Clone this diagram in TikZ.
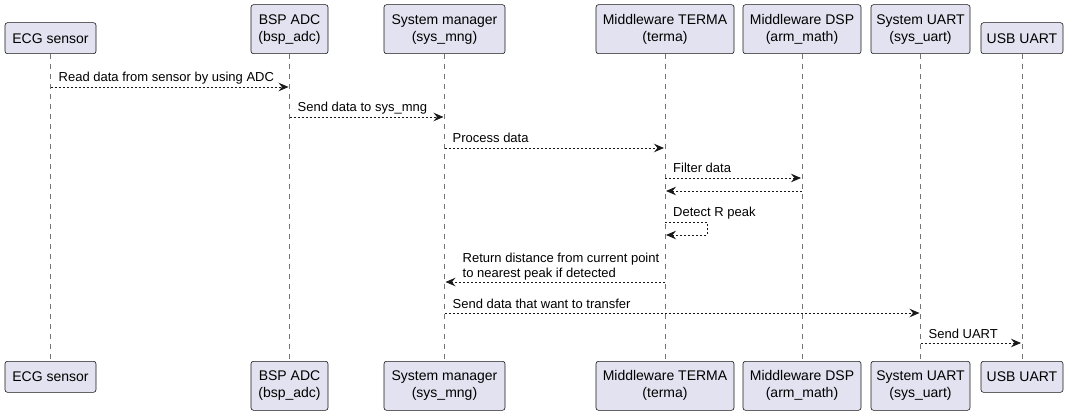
\documentclass[tikz,border=0pt]{standalone}
\usepackage{fontspec}
\setmainfont{Liberation Sans}
\usetikzlibrary{arrows.meta}
\definecolor{boxfill}{HTML}{E2E2F0}
\definecolor{ink}{HTML}{181818}

\begin{document}
\begin{tikzpicture}[x = 1pt, y = -1pt,
    part/.style = {draw = ink, fill = boxfill, rounded corners = 2.5pt, line width = 0.6pt,
      align = center, inner sep = 0pt, minimum height = 31pt, font = \fontsize{14}{17}\selectfont},
    twoline/.style = {minimum height = 49pt},
    life/.style = {draw = ink!60, line width = 0.6pt, dash pattern = on 5pt off 5pt},
    msg/.style = {draw = ink, line width = 0.8pt, dash pattern = on 2pt off 2pt,
      -{Stealth[length = 10pt, width = 8.5pt, inset = 3.5pt]}, shorten > = 1pt},
    lbl/.style = {anchor = base west, inner sep = 0pt, align = left, font = \fontsize{13}{15}\selectfont}]
    \useasboundingbox (0,0) rectangle (1068,414);

    % participants, top row
    \node [part, minimum width = 91pt, anchor = south] (ecgtop) at (50.5, 54) {ECG sensor};
    \node [part, twoline, minimum width = 77pt, anchor = south] (bsptop) at (289.5, 54) {BSP ADC\\(bsp\_adc)};
    \node [part, twoline, minimum width = 121pt, anchor = south] (systop) at (444.5, 54) {System manager\\(sys\_mng)};
    \node [part, twoline, minimum width = 138pt, anchor = south] (termatop) at (665, 54) {Middleware TERMA\\(terma)};
    \node [part, twoline, minimum width = 118pt, anchor = south] (dsptop) at (802, 54) {Middleware DSP\\(arm\_math)};
    \node [part, twoline, minimum width = 99pt, anchor = south] (uarttop) at (920.5, 54) {System UART\\(sys\_uart)};
    \node [part, minimum width = 82pt, anchor = south] (usbtop) at (1022, 54) {USB UART};

    % participants, bottom row
    \node [part, minimum width = 91pt, anchor = north] (ecgbot) at (50.5, 361) {ECG sensor};
    \node [part, twoline, minimum width = 77pt, anchor = north] (bspbot) at (289.5, 361) {BSP ADC\\(bsp\_adc)};
    \node [part, twoline, minimum width = 121pt, anchor = north] (sysbot) at (444.5, 361) {System manager\\(sys\_mng)};
    \node [part, twoline, minimum width = 138pt, anchor = north] (termabot) at (665, 361) {Middleware TERMA\\(terma)};
    \node [part, twoline, minimum width = 118pt, anchor = north] (dspbot) at (802, 361) {Middleware DSP\\(arm\_math)};
    \node [part, twoline, minimum width = 99pt, anchor = north] (uartbot) at (920.5, 361) {System UART\\(sys\_uart)};
    \node [part, minimum width = 82pt, anchor = north] (usbbot) at (1022, 361) {USB UART};

    % lifelines
    \draw [life] (ecgtop.south) -- (ecgbot.north);
    \draw [life] (bsptop.south) -- (bspbot.north);
    \draw [life] (systop.south) -- (sysbot.north);
    \draw [life] (termatop.south) -- (termabot.north);
    \draw [life] (dsptop.south) -- (dspbot.north);
    \draw [life] (uarttop.south) -- (uartbot.north);
    \draw [life] (usbtop.south) -- (usbbot.north);

    % message rows
    \coordinate (m1) at (0, 87);
    \coordinate (m2) at (0, 117);
    \coordinate (m3) at (0, 148);
    \coordinate (m4) at (0, 178);
    \coordinate (m5) at (0, 191);
    \coordinate (m6) at (0, 222);
    \coordinate (m6b) at (0, 235);
    \coordinate (m7) at (0, 282);
    \coordinate (m8) at (0, 313);
    \coordinate (m9) at (0, 343);

    \draw [msg] (ecgtop |- m1) -- (bsptop |- m1);
    \node [lbl] (l1) at (58.5, 82) {Read data from sensor by using ADC};
    \draw [msg] (bsptop |- m2) -- (systop |- m2);
    \node [lbl] (l2) at (297.5, 112) {Send data to sys\_mng};
    \draw [msg] (systop |- m3) -- (termatop |- m3);
    \node [lbl] (l3) at (452.5, 143) {Process data};
    \draw [msg] (termatop |- m4) -- (dsptop |- m4);
    \node [lbl] (l4) at (673, 173) {Filter data};
    \draw [msg] (dsptop |- m5) -- (termatop |- m5);
    \draw [msg] (termatop |- m6) -- ++(42, 0) |- (termatop |- m6b);
    \node [lbl] (l6) at (673, 217) {Detect R peak};
    \draw [msg] (termatop |- m7) -- (systop |- m7);
    \node [lbl] (l7) at (462.5, 277) {Return distance from current point\\to nearest peak if detected};
    \draw [msg] (systop |- m8) -- (uarttop |- m8);
    \node [lbl] (l8) at (452.5, 308) {Send data that want to transfer};
    \draw [msg] (uarttop |- m9) -- (usbtop |- m9);
    \node [lbl] (l9) at (928.5, 338) {Send UART};
\end{tikzpicture}
\end{document}
